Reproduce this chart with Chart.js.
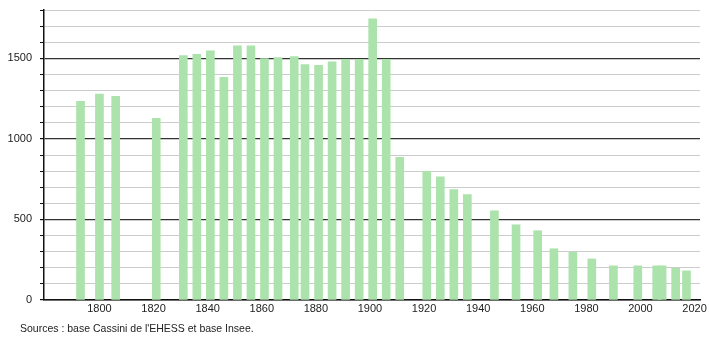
<!DOCTYPE html>
<html>
<head>
<meta charset="utf-8">
<script src="https://cdn.jsdelivr.net/npm/chart.js@4/dist/chart.umd.min.js"></script>
<style>
  html, body { margin: 0; padding: 0; background: #fff; }
  #wrap { width: 710px; height: 340px; position: relative; }
</style>
</head>
<body>
<div id="wrap"><canvas id="c" width="710" height="340"></canvas></div>
<script>
const years = [1793,1800,1806,1821,1831,1836,1841,1846,1851,1856,1861,1866,1872,1876,1881,1886,1891,1896,1901,1906,1911,1921,1926,1931,1936,1946,1954,1962,1968,1975,1982,1990,1999,2006,2008,2013,2017];
const population = [1233,1278,1264,1127,1517,1525,1546,1382,1577,1577,1499,1505,1511,1461,1457,1478,1494,1494,1745,1494,886,799,764,685,654,554,467,430,318,297,255,212,212,212,212,197,181];
const xTicks = [1800,1820,1840,1860,1880,1900,1920,1940,1960,1980,2000,2020];
const yLabelTicks = [0,500,1000,1500];
const sourceText = "Sources : base Cassini de l'EHESS et base Insee.";

const sourcePlugin = {
  id: 'sourceText',
  afterDraw(chart) {
    const ctx = chart.ctx;
    ctx.save();
    ctx.font = '10.5px "Liberation Sans", Arial, sans-serif';
    ctx.fillStyle = '#222';
    ctx.textBaseline = 'middle';
    ctx.textAlign = 'left';
    ctx.fillText(sourceText, 20, 329);
    ctx.restore();
  }
};

new Chart(document.getElementById('c'), {
  type: 'bar',
  data: {
    datasets: [{
      data: years.map((y, i) => ({ x: y, y: population[i] })),
      backgroundColor: 'rgb(172, 226, 172)',
      borderWidth: 0,
      barThickness: 8
    }]
  },
  options: {
    responsive: false,
    animation: false,
    devicePixelRatio: 1,
    layout: { padding: { top: 10, right: 10, left: 0, bottom: 0 } },
    plugins: { legend: { display: false }, tooltip: { enabled: false } },
    scales: {
      x: {
        type: 'linear',
        min: 1779.5,
        max: 2022,
        offset: false,
        grid: { display: false, drawTicks: false },
        border: { display: true, color: '#111', width: 1.5 },
        afterBuildTicks: (scale) => { scale.ticks = xTicks.map(v => ({ value: v })); },
        afterFit: (scale) => { scale.height = 40; },
        ticks: {
          autoSkip: false,
          maxRotation: 0,
          padding: 2,
          color: '#222',
          font: { family: '"Liberation Sans", Arial, sans-serif', size: 11 },
          callback: (v) => String(v)
        }
      },
      y: {
        min: 0,
        max: 1800,
        afterBuildTicks: (scale) => {
          const t = [];
          for (let v = 0; v <= 1800; v += 100) t.push({ value: v });
          scale.ticks = t;
        },
        afterFit: (scale) => { scale.width = 44; scale.paddingTop = 0; scale.paddingBottom = 0; },
        grid: {
          color: (ctx) => (ctx.tick && ctx.tick.value % 500 === 0) ? '#333' : '#cccccc',
          lineWidth: (ctx) => (ctx.tick && ctx.tick.value % 500 === 0) ? 1.2 : 1,
          tickColor: '#111',
          tickLength: 4
        },
        border: { display: true, color: '#111', width: 1.5 },
        ticks: {
          autoSkip: false,
          padding: 8,
          color: '#222',
          font: { family: '"Liberation Sans", Arial, sans-serif', size: 11 },
          callback: (v) => yLabelTicks.includes(v) ? String(v) : ''
        }
      }
    }
  },
  plugins: [sourcePlugin]
});
</script>
</body>
</html>
